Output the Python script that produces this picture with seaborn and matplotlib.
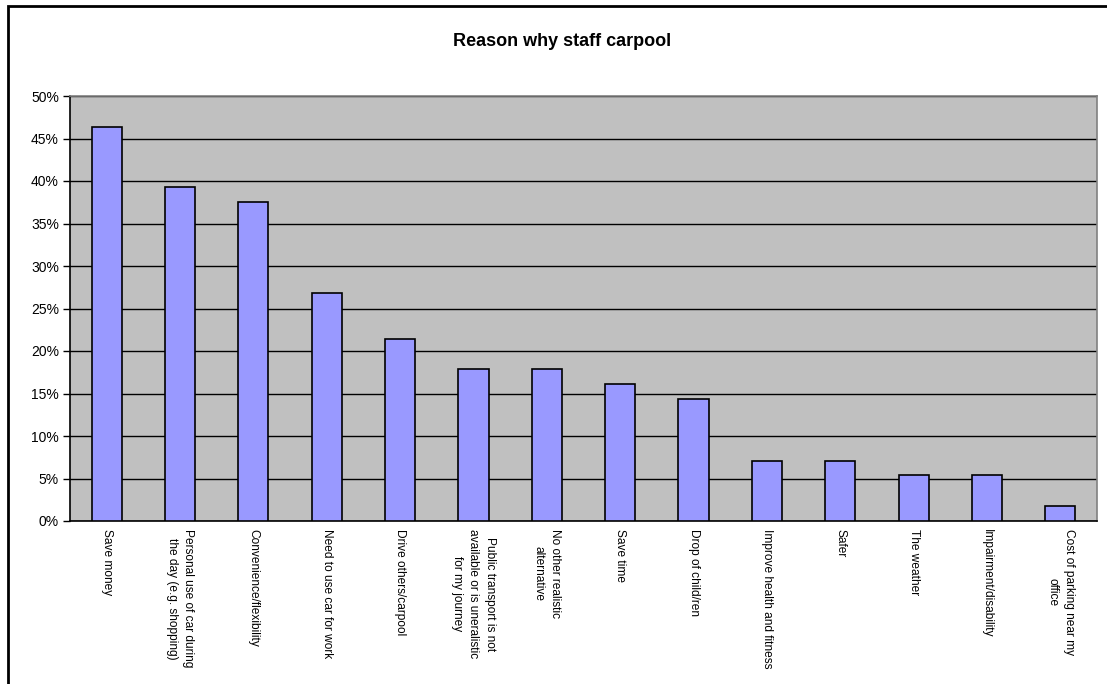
import matplotlib
matplotlib.use("Agg")
import matplotlib.pyplot as plt
import seaborn as sns
import pandas as pd
import numpy as np
from matplotlib.patches import Rectangle
from matplotlib.ticker import PercentFormatter, FixedLocator

# Données (part des répondants)
reasons = [
    "Save money",
    "Personal use of car during\nthe day (e.g. shopping)",
    "Convenience/flexibility",
    "Need to use car for work",
    "Drive others/carpool",
    "Public transport is not\navailable or is uneralistic\nfor my journey",
    "No other realistic\nalternative",
    "Save time",
    "Drop of child/ren",
    "Improve health and fitness",
    "Safer",
    "The weather",
    "Impairment/disability",
    "Cost of parking near my\noffice",
]
share = [46.4, 39.3, 37.5, 26.8, 21.4, 17.9, 17.9, 16.1, 14.3, 7.1, 7.1, 5.4, 5.4, 1.8]

df = pd.DataFrame({"reason": reasons, "share": share})

sns.set_style("white")
plt.rcParams["font.family"] = ["Liberation Sans", "DejaVu Sans"]
plt.rcParams["text.color"] = "black"
plt.rcParams["xtick.color"] = "black"
plt.rcParams["ytick.color"] = "black"

fig = plt.figure(figsize=(11.07, 6.84), dpi=100)
ax = fig.add_axes([70 / 1107, 1 - 521 / 684, 1027 / 1107, 425 / 684])

sns.barplot(data=df, x="reason", y="share", color="#9999FF", saturation=1,
            edgecolor="black", linewidth=1.2, width=0.41, ax=ax, zorder=3)

ax.set_facecolor("#C0C0C0")
ax.set_ylim(0, 50)
ax.set_xlim(-0.5, len(reasons) - 0.5)
ax.yaxis.set_major_locator(FixedLocator(np.arange(0, 51, 5)))
ax.yaxis.set_major_formatter(PercentFormatter(decimals=0))
ax.grid(axis="y", color="black", linewidth=1, zorder=1)
ax.set_axisbelow(True)

ax.set_xticks(range(len(reasons)))
ax.set_xticklabels(reasons, rotation=-90, ha="center", va="top",
                   multialignment="center", fontsize=8.6, linespacing=1.5)
ax.xaxis.set_minor_locator(FixedLocator(np.arange(-0.5, len(reasons), 1)))
ax.tick_params(axis="x", which="major", length=0, pad=6)
ax.tick_params(axis="x", which="minor", length=5, width=1, color="black", direction="out")
ax.tick_params(axis="y", length=5, width=1, color="black", direction="out",
               labelsize=10, pad=3, left=True)
ax.set_xlabel("")
ax.set_ylabel("")

for side in ["left", "bottom"]:
    ax.spines[side].set_color("black")
    ax.spines[side].set_linewidth(1.2)
for side in ["top", "right"]:
    ax.spines[side].set_color("#808080")
    ax.spines[side].set_linewidth(1.2)

fig.text(562 / 1107, 1 - 42 / 684, "Reason why staff carpool", ha="center", va="center",
         fontsize=13, fontweight="bold")

# cadre de la zone de graphique
fig.patches.append(Rectangle((8 / 1107, -0.05), 1.1, 1.05 - 6 / 684, transform=fig.transFigure,
                             fill=False, edgecolor="black", linewidth=2))

fig.savefig("out.png", dpi=100)
